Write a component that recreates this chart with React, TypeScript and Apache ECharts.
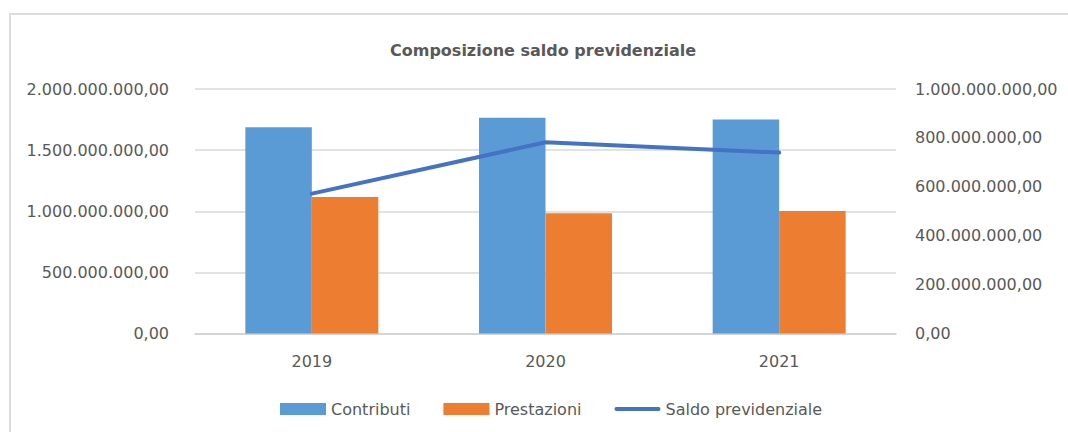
import React, { useEffect, useRef } from "react";
import * as echarts from "echarts";

const categories = ["2019", "2020", "2021"];
const contributi = [1688000000, 1765000000, 1751000000];
const prestazioni = [1116000000, 983000000, 1002000000];
const saldo = [572000000, 782000000, 740000000];
const titleText = "Composizione saldo previdenziale";

function fmtIt(v: number): string {
  const [intPart, dec] = v.toFixed(2).split(".");
  const withDots = intPart.replace(/\B(?=(\d{3})+(?!\d))/g, ".");
  return withDots + "," + dec;
}

const lineIcon =
  "path://M0,0 L0,0.01 M48,12 L48,11.99 M2,4 L46,4 A2,2 0 0 1 46,8 L2,8 A2,2 0 0 1 2,4 Z";

export default function App() {
  const ref = useRef<HTMLDivElement>(null);
  useEffect(() => {
    if (!ref.current) return;
    const chart = echarts.init(ref.current, undefined, { renderer: "svg" });
    const font = "DejaVu Sans";
    const textColor = "#595959";
    chart.setOption({
      animation: false,
      backgroundColor: "#ffffff",
      textStyle: { fontFamily: font },
      graphic: [
        {
          type: "rect",
          shape: { x: 10, y: 14, width: 1100, height: 500 },
          style: { fill: "none", stroke: "#dcdcdc", lineWidth: 2 },
          silent: true,
          z: -1,
        },
      ],
      title: {
        text: titleText,
        left: 385,
        top: 37,
        textStyle: { fontFamily: font, fontSize: 16, fontWeight: "bold", color: textColor },
      },
      legend: {
        left: 275,
        top: 396,
        itemWidth: 46,
        itemHeight: 12,
        itemGap: 33,
        textStyle: { fontFamily: font, fontSize: 16, color: textColor },
        data: [
          { name: "Contributi", icon: "rect" },
          { name: "Prestazioni", icon: "rect" },
          { name: "Saldo previdenziale", icon: lineIcon, itemStyle: { color: "#4472C4" } },
        ],
      },
      grid: { left: 195, right: 172, top: 89, bottom: 98.5, containLabel: false },
      xAxis: {
        type: "category",
        data: categories,
        axisLine: { lineStyle: { color: "#d0d0d0", width: 1.5 } },
        axisTick: { show: false },
        axisLabel: { fontFamily: font, fontSize: 16, color: textColor, margin: 20 },
      },
      yAxis: [
        {
          type: "value",
          min: 0,
          max: 2000000000,
          interval: 500000000,
          axisLine: { show: false },
          axisTick: { show: false },
          splitLine: { lineStyle: { color: "#d9d9d9", width: 1.5 } },
          axisLabel: {
            fontFamily: font,
            fontSize: 16,
            color: textColor,
            margin: 26,
            formatter: (v: number) => fmtIt(v),
          },
        },
        {
          type: "value",
          min: 0,
          max: 1000000000,
          interval: 200000000,
          position: "right",
          axisLine: { show: false },
          axisTick: { show: false },
          splitLine: { show: false },
          axisLabel: {
            fontFamily: font,
            fontSize: 16,
            color: textColor,
            margin: 19,
            formatter: (v: number) => fmtIt(v),
          },
        },
      ],
      series: [
        {
          name: "Contributi",
          type: "bar",
          data: contributi,
          barWidth: 66.5,
          barGap: "0%",
          itemStyle: { color: "#5B9BD5" },
        },
        {
          name: "Prestazioni",
          type: "bar",
          data: prestazioni,
          barWidth: 66.5,
          barGap: "0%",
          itemStyle: { color: "#ED7D31" },
        },
        {
          name: "Saldo previdenziale",
          type: "line",
          yAxisIndex: 1,
          data: saldo,
          symbol: "none",
          showSymbol: false,
          lineStyle: { color: "#4472C4", width: 4, cap: "round" },
          itemStyle: { color: "#4472C4" },
          z: 5,
        },
      ],
    });
    return () => chart.dispose();
  }, []);
  return (
    <div
      ref={ref}
      style={{ position: "fixed", left: 0, top: 0, width: 1068, height: 432 }}
    />
  );
}
